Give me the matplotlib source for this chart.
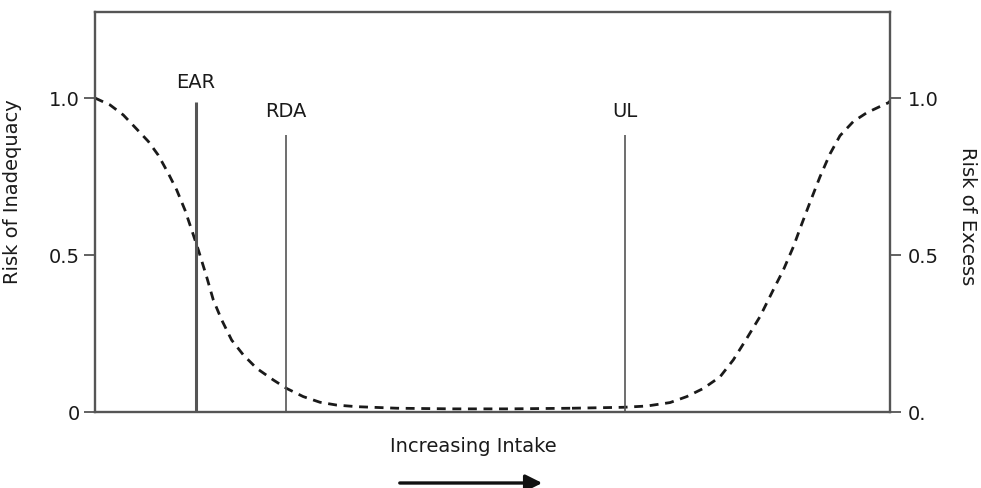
import matplotlib
matplotlib.use("Agg")
import matplotlib.pyplot as plt
from matplotlib.patches import FancyArrowPatch

plt.rcParams['font.family'] = ['DejaVu Sans']

# Intake axis: 0..100 arbitrary units
inad_x = [0, 1.89, 3.56, 5.25, 6.70, 7.96, 9.22, 10.28, 11.32, 12.16, 13.0,
          14.05, 14.88, 15.94, 17.19, 18.65, 20.34, 22.43, 24.11, 26.20,
          28.30, 30.40, 32.91, 38, 45, 52, 60]
inad_y = [1.0, 0.978, 0.946, 0.901, 0.862, 0.818, 0.760, 0.707, 0.643, 0.580,
          0.516, 0.430, 0.357, 0.293, 0.229, 0.182, 0.139, 0.102, 0.075, 0.049,
          0.031, 0.022, 0.017, 0.012, 0.010, 0.010, 0.012]

exc_x = [60, 66.45, 69.4, 72.33, 74.43, 76.52, 78.62, 80.29, 82.0, 83.65,
         85.32, 86.58, 87.84, 88.89, 89.94, 91.19, 92.45, 93.71, 95.38, 97.07,
         98.74, 99.79, 100]
exc_y = [0.012, 0.015, 0.019, 0.030, 0.049, 0.075, 0.112, 0.166, 0.235, 0.304,
         0.389, 0.452, 0.526, 0.598, 0.668, 0.749, 0.822, 0.880, 0.925, 0.953,
         0.973, 0.985, 0.99]

ref_names = ["EAR", "RDA", "UL"]
ref_x = [12.7, 24.0, 66.7]
ref_top = [0.987, 0.882, 0.882]
ref_label_y = [1.032, 0.939, 0.939]

left_ticks = [0, 0.5, 1.0]
left_labels = ["0", "0.5", "1.0"]
right_labels = ["0.", "0.5", "1.0"]

fig = plt.figure(figsize=(9.81, 4.88), dpi=100)
ax = fig.add_axes([95/981, 76/488, 795/981, 400/488])
ax.set_xlim(0, 100)
ax.set_ylim(0, 1.274)

col = '#555555'
tcol = '#1a1a1a'
dash = (0, (3.2, 2.4))
ax.plot(inad_x, inad_y, color='#1a1a1a', lw=2.0, ls=dash,
        solid_joinstyle='round', dash_joinstyle='round')
ax.plot(exc_x, exc_y, color='#1a1a1a', lw=2.0, ls=dash,
        solid_joinstyle='round', dash_joinstyle='round')

for name, x, top, ly in zip(ref_names, ref_x, ref_top, ref_label_y):
    lw = 2.2 if name == "EAR" else 1.2
    ax.plot([x, x], [0, top], color=col, lw=lw, solid_capstyle='butt')
    ax.text(x, ly, name, ha='center', va='baseline', fontsize=14, color=tcol)

for s in ax.spines.values():
    s.set_color(col)
    s.set_linewidth(1.7)

ax.set_xticks([])
ax.set_yticks(left_ticks)
ax.set_yticklabels(left_labels)
ax.tick_params(axis='y', direction='out', length=8, width=1.3, color=col,
               labelsize=14, pad=3, labelcolor=tcol)
ax.set_ylabel("Risk of Inadequacy", fontsize=14, color=tcol)
ax.yaxis.set_label_coords(-0.092, 0.55)

ax2 = ax.twinx()
ax2.set_ylim(0, 1.274)
ax2.set_yticks(left_ticks)
ax2.set_yticklabels(right_labels)
ax2.tick_params(axis='y', direction='out', length=8, width=1.3, color=col,
                labelsize=14, pad=5, labelcolor=tcol)
for s in ax2.spines.values():
    s.set_visible(False)
ax2.set_ylabel("Risk of Excess", fontsize=14, rotation=270, color=tcol,
               va='center')
ax2.yaxis.set_label_coords(1.097, 0.49)

fig.text(473/981, 1 - 447/488, "Increasing Intake", ha='center', va='center',
         fontsize=14, color=tcol)
fig.add_artist(FancyArrowPatch(
    (397/981, 1 - 483/488), (545/981, 1 - 483/488), transform=fig.transFigure,
    arrowstyle='-|>,head_length=10,head_width=5', color='#111111', lw=2.4,
    mutation_scale=1))

fig.savefig("out.png", dpi=100)
